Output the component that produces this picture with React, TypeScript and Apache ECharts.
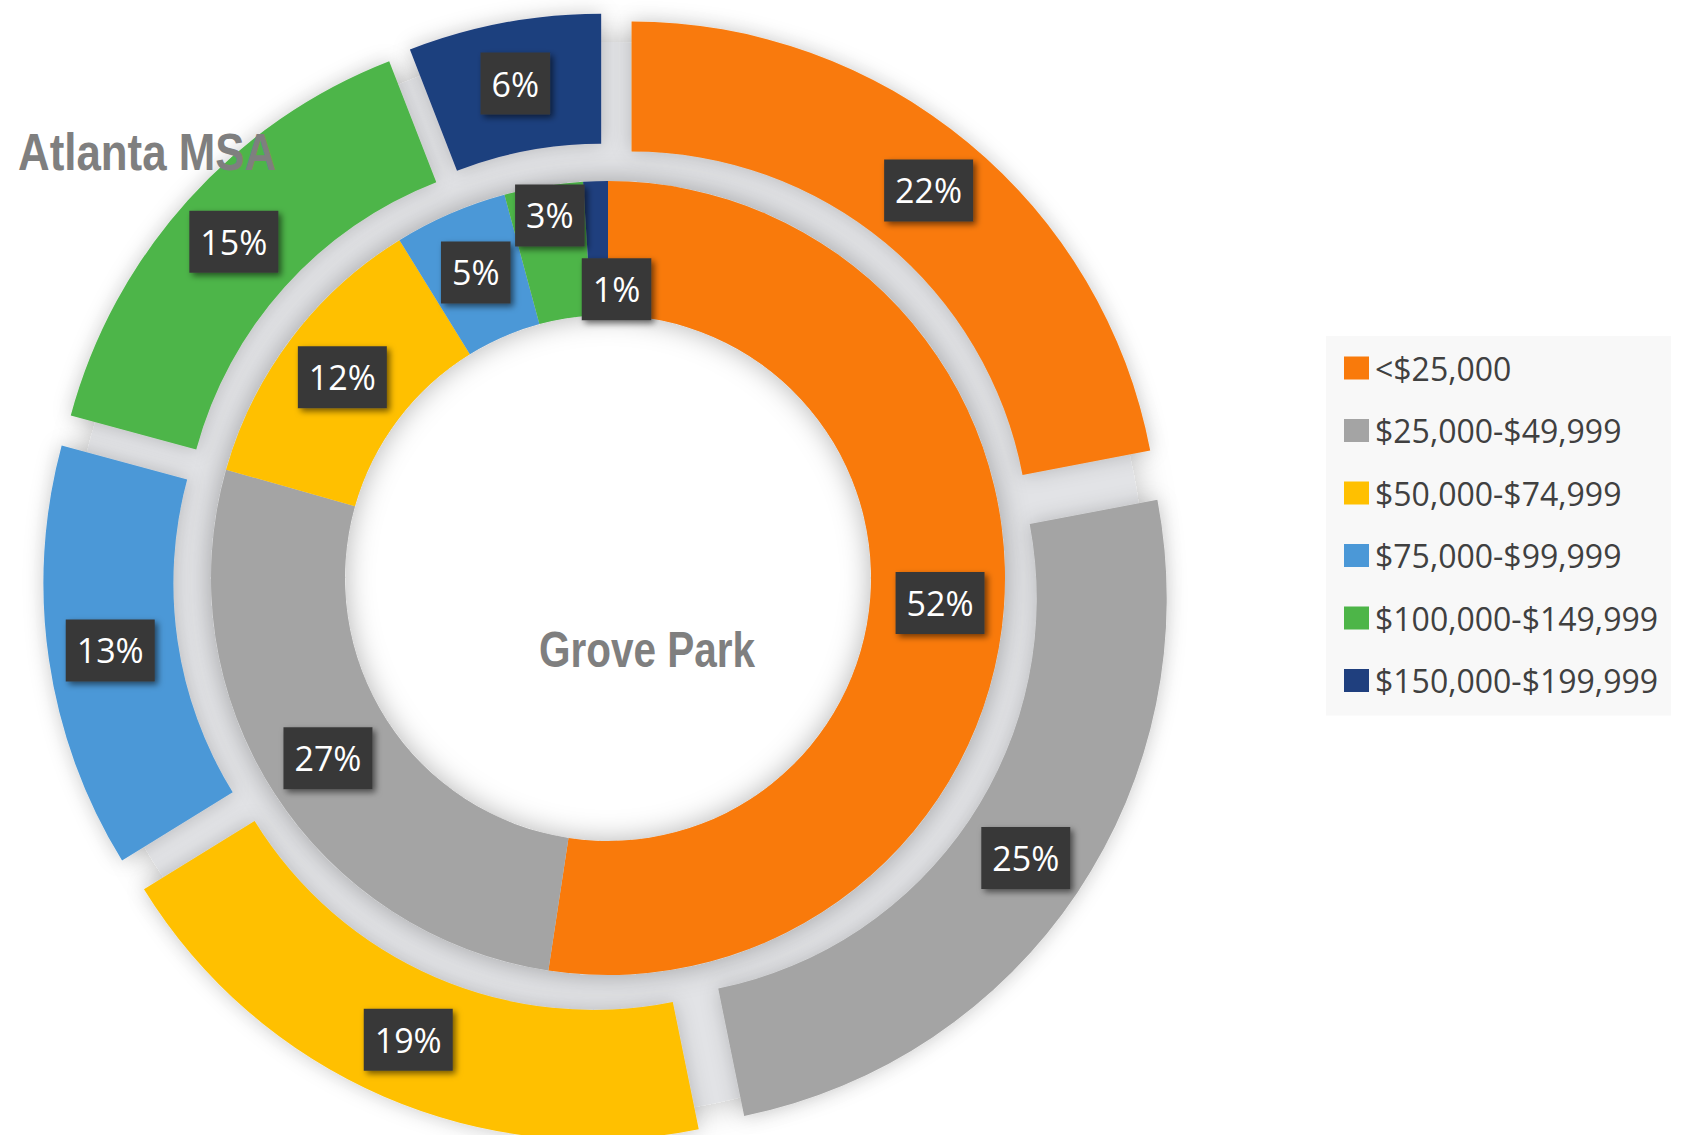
import React, { useEffect, useRef } from 'react';
import * as echarts from 'echarts';

// ---- Data ----
const categories = [
  '<$25,000',
  '$25,000-$49,999',
  '$50,000-$74,999',
  '$75,000-$99,999',
  '$100,000-$149,999',
  '$150,000-$199,999',
];
// shares (%); labels show rounded values
const grovePark = [52.4, 27.0, 11.8, 4.6, 3.2, 1.0];
const atlantaMSA = [22.0, 24.8, 19.4, 13.0, 14.9, 5.9];

// ---- Styles ----
const colors = ['#F97A0B', '#A4A4A4', '#FFC000', '#4B98D7', '#4DB548', '#1F3F7E'];
// label nudges for the crowded small inner slices [dx, dy]
const innerNudges: Record<number, [number, number]> = { 4: [-4, -34], 5: [19, 44] };

const CX = 608;
const CY = 578;
const TITLE_FONT = "'Liberation Sans', Arial, sans-serif";

export default function App() {
  const ref = useRef<HTMLDivElement>(null);

  useEffect(() => {
    document.body.style.margin = '0';
    const chart = echarts.init(ref.current!, undefined, { renderer: 'svg' });

    const labelStyle = {
      show: true,
      position: 'inside',
      formatter: (p: any) => Math.round(p.value) + '%',
      color: '#ffffff',
      fontFamily: 'Open Sans',
      fontSize: 34,
      lineHeight: 38,
      backgroundColor: '#393939',
      padding: [12, 11, 12, 11],
      shadowBlur: 6,
      shadowColor: 'rgba(0,0,0,0.55)',
      shadowOffsetX: 3,
      shadowOffsetY: 3,
    };

    const mk = (vals: number[], selected: boolean) =>
      vals.map((v, i) => ({
        name: categories[i],
        value: v,
        selected,
        itemStyle: { color: colors[i] },
      }));

    chart.setOption({
      animation: false,
      backgroundColor: '#ffffff',
      legend: {
        data: categories,
        orient: 'vertical',
        left: 1326,
        top: 336,
        icon: 'rect',
        itemWidth: 25,
        itemHeight: 23,
        itemGap: 30.5,
        backgroundColor: '#f8f8f8',
        padding: [16, 13, 19, 18],
        selectedMode: false,
        textStyle: {
          fontFamily: 'Open Sans',
          fontSize: 32,
          lineHeight: 32,
          color: '#404040',
          padding: [0, 0, 0, 1],
        },
      },
      graphic: [
        {
          type: 'text',
          x: 18,
          y: 152,
          scaleX: 0.86,
          style: {
            text: 'Atlanta MSA',
            align: 'left',
            verticalAlign: 'middle',
            fontFamily: TITLE_FONT,
            fontWeight: 'bold',
            fontSize: 51,
            fill: '#7F7F7F',
          },
          z: 100,
        },
        {
          type: 'text',
          x: 647,
          y: 650,
          scaleX: 0.81,
          style: {
            text: 'Grove Park',
            align: 'center',
            verticalAlign: 'middle',
            fontFamily: TITLE_FONT,
            fontWeight: 'bold',
            fontSize: 50,
            fill: '#7F7F7F',
          },
          z: 100,
        },
      ],
      series: [
        {
          type: 'pie',
          name: 'bg',
          silent: true,
          center: [CX, CY],
          radius: [388, 536],
          label: { show: false },
          labelLine: { show: false },
          emphasis: { disabled: true },
          itemStyle: {
            color: '#e2e3e6',
            shadowBlur: 34,
            shadowColor: 'rgba(0,0,0,0.26)',
          },
          data: [{ name: 'bg', value: 1 }],
        },
        {
          type: 'pie',
          name: 'innerShadow',
          silent: true,
          center: [CX, CY],
          radius: [263, 397],
          label: { show: false },
          labelLine: { show: false },
          emphasis: { disabled: true },
          itemStyle: {
            color: '#d8d8d8',
            shadowBlur: 28,
            shadowColor: 'rgba(0,0,0,0.3)',
          },
          data: [{ name: 'innerShadow', value: 1 }],
        },
        {
          type: 'pie',
          name: 'Grove Park',
          center: [CX, CY],
          radius: [263, 397],
          startAngle: 90,
          clockwise: true,
          emphasis: { disabled: true },
          itemStyle: { borderWidth: 0 },
          label: labelStyle,
          labelLine: { show: false },
          labelLayout: (p: any) => {
            const n = innerNudges[p.dataIndex];
            return n ? { dx: n[0], dy: n[1] } : {};
          },
          data: mk(grovePark, false),
        },
        {
          type: 'pie',
          name: 'Atlanta MSA',
          center: [CX, CY],
          radius: [398, 528],
          startAngle: 90,
          clockwise: true,
          selectedMode: 'multiple',
          selectedOffset: 37,
          emphasis: { disabled: true },
          itemStyle: {
            borderWidth: 0,
            shadowBlur: 20,
            shadowColor: 'rgba(0,0,0,0.2)',
          },
          label: labelStyle,
          labelLine: { show: false },
          data: mk(atlantaMSA, true),
        },
      ],
    });

    return () => chart.dispose();
  }, []);

  return <div ref={ref} style={{ width: 1690, height: 1135 }} />;
}
